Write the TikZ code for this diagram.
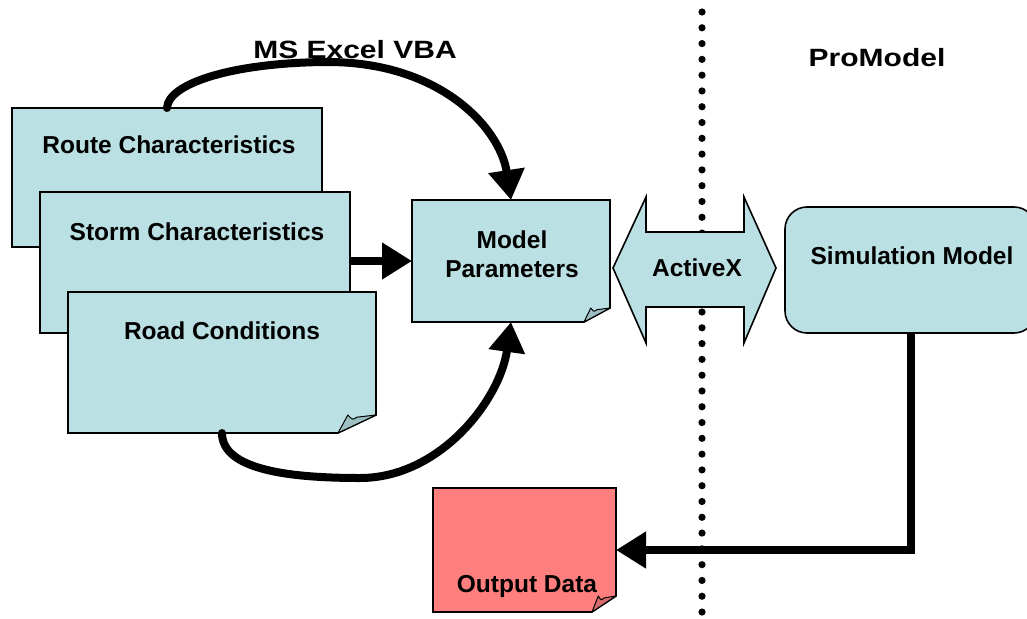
\documentclass[tikz,border=0pt]{standalone}
\usepackage{fontspec}
\setmainfont{Liberation Sans}
\usetikzlibrary{arrows.meta,calc}
\definecolor{boxblue}{HTML}{BBE0E3}
\definecolor{foldblue}{HTML}{9CBFC3}
\definecolor{outred}{HTML}{FF7F7F}
\definecolor{foldred}{HTML}{D46A6A}
\tikzset{
  geo/.style={draw=none, inner sep=0pt, outer sep=0pt, anchor=north west},
  boxline/.style={line width=1.6pt, line join=miter},
  conn/.style={line width=8pt, -{Triangle[length=30pt,width=35pt]}},
  lbl/.style={font=\bfseries\fontsize{24.5}{29}\selectfont, align=center, inner sep=0pt},
  ttl/.style={font=\bfseries\fontsize{25}{30}\selectfont, inner sep=0pt},
}
\newcommand\foldbox[5]{%
  \draw[boxline, fill=#4] (#1.north west) -- (#1.north east) -- ($(#1.south east)+(0,-#3)$) -- ($(#1.south east)+(-#2,0)$) -- (#1.south west) -- cycle;
  \filldraw[line width=1pt, fill=#5, line join=round] ($(#1.south east)+(-#2,0)$) .. controls ($(#1.south east)+(-0.88*#2,-0.5*#3)$) .. ($(#1.south east)+(-0.74*#2,-#3)$) .. controls ($(#1.south east)+(-0.62*#2,-0.72*#3)$) .. ($(#1.south east)+(-0.5*#2,-0.88*#3)$) -- ($(#1.south east)+(0,-#3)$) -- cycle;
}
\begin{document}
\begin{tikzpicture}[x=1pt,y=-1pt]
\useasboundingbox (0,0) rectangle (1027,618);
\clip (0,0) rectangle (1027,618);
% dotted separator
\foreach \i in {0,...,38} \fill (702,12+\i*15.79) circle (3.6);
% titles
\node[ttl] (vba) at (355,50) {\scalebox{1.2}[1]{MS Excel VBA}};
\node[ttl] (pm) at (877,58) {\scalebox{1.2}[1]{ProModel}};
% input notes
\node[geo, minimum width=310pt, minimum height=139pt] (rc) at (12,108) {};
\foldbox{rc}{38}{18}{boxblue}{foldblue}
\node[lbl] (rct) at (169,145) {Route Characteristics};
\node[geo, minimum width=310pt, minimum height=141pt] (st) at (40,192) {};
\foldbox{st}{38}{18}{boxblue}{foldblue}
\node[lbl] (stt) at (197,232) {Storm Characteristics};
\node[geo, minimum width=308pt, minimum height=141pt] (rd) at (68,292) {};
\foldbox{rd}{38}{18}{boxblue}{foldblue}
\node[lbl] (rdt) at (222,331) {Road Conditions};
% model parameters
\node[geo, minimum width=198pt, minimum height=122pt] (mp) at (412,200) {};
\foldbox{mp}{26}{14}{boxblue}{foldblue}
\node[lbl] (mpt) at (512,254) {Model\\Parameters};
% ActiveX double arrow
\draw[boxline, fill=boxblue] (613,268) -- (646,197) -- (646,232) -- (744,232) -- (744,197) -- (776,268) -- (744,343) -- (744,307) -- (646,307) -- (646,343) -- cycle;
\node[lbl] (ax) at (697,268) {ActiveX};
% simulation model
\node[geo, draw, boxline, fill=boxblue, rounded corners=22pt, minimum width=251pt, minimum height=126pt] (sim) at (785,207) {};
\node[lbl] (simt) at (912,256) {Simulation Model};
% output data
\node[geo, minimum width=183pt, minimum height=124pt] (od) at (433,488) {};
\foldbox{od}{24}{16}{outred}{foldred}
\node[lbl] (odt) at (527,586) {Output Data};
% connectors
\draw[conn, line cap=round] (rc.north) .. controls (168,84) and (230,63) .. (325,62) .. controls (440,61) and (500,128) .. (mp.north);
\draw[conn, line cap=round] (rd.south) .. controls (222,470) and (290,478) .. (360,478) .. controls (440,478) and (500,400) .. (mp.south);
\draw[conn] (st.east |- mp.west) -- (mp.west);
\draw[conn, line join=miter] (sim.south) -- (sim.south |- od.east) -- (od.east);
\end{tikzpicture}
\end{document}
